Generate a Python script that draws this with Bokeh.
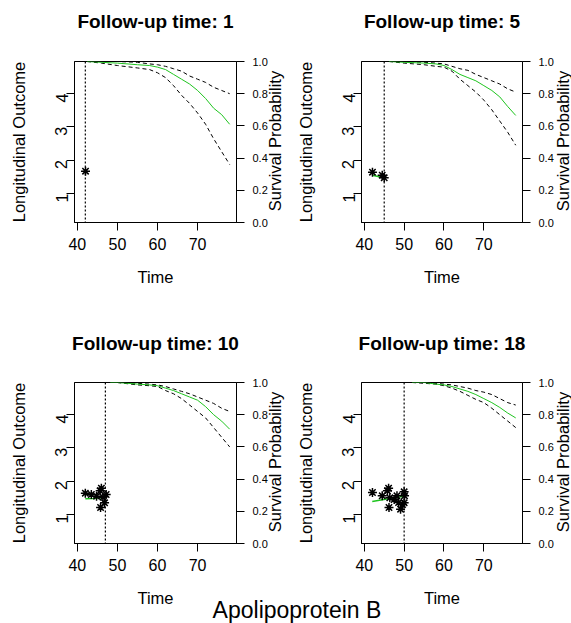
import math
from bokeh.plotting import figure
from bokeh.models import Range1d, LinearAxis, FixedTicker, Span, Title, GridBox, Div, PrintfTickFormatter
from bokeh.embed import file_html
from bokeh.resources import INLINE

FONT = "Liberation Sans"

# ---------------- data ----------------
panel_titles = ["Follow-up time: 1", "Follow-up time: 5", "Follow-up time: 10", "Follow-up time: 18"]
last_visit = [42.0, 45.0, 47.0, 50.0]

x_ticks = [40, 50, 60, 70]
left_ticks = [1, 2, 3, 4]
right_ticks = [0.0, 0.2, 0.4, 0.6, 0.8, 1.0]

# observed longitudinal measurements (Apolipoprotein B)
obs_t_1 = [42.05]
obs_y_1 = [1.67]
obs_t_2 = [42.05, 44.5, 45.0]
obs_y_2 = [1.64, 1.55, 1.47]
obs_t_3 = [42.0, 43.5, 44.8, 45.7, 46.0, 46.4, 45.8, 46.8, 47.2]
obs_y_3 = [1.64, 1.60, 1.55, 1.71, 1.79, 1.52, 1.21, 1.35, 1.60]
obs_t_4 = [42.05, 44.5, 45.8, 46.1, 46.4, 46.2, 47.5, 48.2, 48.6, 49.1, 49.6, 50.0, 50.0, 50.1]
obs_y_4 = [1.66, 1.56, 1.71, 1.79, 1.50, 1.21, 1.45, 1.56, 1.36, 1.16, 1.30, 1.68, 1.35, 1.56]

# fitted longitudinal trajectory
fit_t_1 = []
fit_y_1 = []
fit_t_2 = [42.0, 45.0]
fit_y_2 = [1.55, 1.47]
fit_t_3 = [42.0, 44.0, 46.0, 47.0]
fit_y_3 = [1.47, 1.48, 1.50, 1.52]
fit_t_4 = [42.0, 46.0, 50.0]
fit_y_4 = [1.39, 1.47, 1.55]

# predicted survival probability with 95% band
surv_t_1 = [42.4, 46, 50, 55, 58, 60, 62, 64, 66, 68, 70, 72, 74, 76, 78]
surv_m_1 = [1.0, 0.995, 0.99, 0.98, 0.975, 0.965, 0.95, 0.92, 0.89, 0.86, 0.82, 0.77, 0.71, 0.67, 0.61]
surv_u_1 = [1.0, 1.0, 1.0, 0.995, 0.985, 0.98, 0.97, 0.955, 0.94, 0.91, 0.89, 0.87, 0.84, 0.82, 0.80]
surv_l_1 = [1.0, 0.99, 0.975, 0.96, 0.95, 0.93, 0.90, 0.85, 0.79, 0.74, 0.68, 0.61, 0.52, 0.44, 0.36]

surv_t_2 = [46.2, 50, 55, 58, 60, 62, 64, 66, 68, 70, 72, 74, 76, 78]
surv_m_2 = [1.0, 0.995, 0.99, 0.985, 0.975, 0.95, 0.92, 0.90, 0.88, 0.85, 0.82, 0.78, 0.72, 0.665]
surv_u_2 = [1.0, 1.0, 0.995, 0.99, 0.985, 0.97, 0.955, 0.945, 0.92, 0.90, 0.88, 0.86, 0.83, 0.81]
surv_l_2 = [1.0, 0.99, 0.98, 0.97, 0.965, 0.94, 0.89, 0.85, 0.81, 0.76, 0.70, 0.63, 0.56, 0.48]

surv_t_3 = [48.2, 50, 55, 58, 60, 62, 64, 66, 68, 70, 72, 74, 76, 78]
surv_m_3 = [1.0, 1.0, 0.99, 0.985, 0.98, 0.965, 0.95, 0.93, 0.91, 0.89, 0.85, 0.80, 0.76, 0.71]
surv_u_3 = [1.0, 1.0, 0.995, 0.99, 0.985, 0.975, 0.96, 0.945, 0.93, 0.91, 0.89, 0.87, 0.84, 0.82]
surv_l_3 = [1.0, 1.0, 0.985, 0.98, 0.975, 0.95, 0.93, 0.90, 0.86, 0.82, 0.78, 0.72, 0.66, 0.60]

surv_t_4 = [52, 55, 58, 60, 62, 64, 66, 68, 70, 72, 74, 76, 78]
surv_m_4 = [1.0, 1.0, 0.99, 0.985, 0.975, 0.96, 0.945, 0.925, 0.90, 0.875, 0.845, 0.81, 0.78]
surv_u_4 = [1.0, 1.0, 0.995, 0.99, 0.985, 0.975, 0.965, 0.95, 0.94, 0.925, 0.90, 0.875, 0.86]
surv_l_4 = [1.0, 0.995, 0.99, 0.98, 0.965, 0.945, 0.92, 0.895, 0.875, 0.84, 0.80, 0.76, 0.72]

overall_title = "Apolipoprotein B"
right_axis_title = "Survival Probability"

panels = [
    (obs_t_1, obs_y_1, fit_t_1, fit_y_1, surv_t_1, surv_m_1, surv_u_1, surv_l_1),
    (obs_t_2, obs_y_2, fit_t_2, fit_y_2, surv_t_2, surv_m_2, surv_u_2, surv_l_2),
    (obs_t_3, obs_y_3, fit_t_3, fit_y_3, surv_t_3, surv_m_3, surv_u_3, surv_l_3),
    (obs_t_4, obs_y_4, fit_t_4, fit_y_4, surv_t_4, surv_m_4, surv_u_4, surv_l_4),
]

GREEN = "#1fc41f"

# layout: (width, height, left, right, top, bottom, title spacer standoff)
geoms = [
    (285, 310, 74, 49, 61, 88, 7),
    (286, 310, 76, 49, 61, 88, 7),
    (285, 313, 74, 49, 72, 80, 6),
    (286, 313, 76, 49, 72, 80, 6),
]
# page positions (centre) of the rotated right-axis titles
sp_pos = [(275, 141), (563, 141), (275, 462), (563, 462)]

X_LO, X_HI = 39.3, 79.7
Y_LO, Y_HI = 0.13, 4.96


def style_axis(ax, size):
    ax.major_label_text_font = FONT
    ax.major_label_text_font_size = size
    ax.major_label_text_color = "black"
    ax.axis_label_text_font = FONT
    ax.axis_label_text_font_size = "16.5px"
    ax.axis_label_text_font_style = "normal"
    ax.axis_label_text_color = "black"
    ax.major_tick_out = 8
    ax.major_tick_in = 0
    ax.minor_tick_line_color = None
    ax.major_tick_line_color = "black"
    ax.axis_line_color = "black"


figs = []
for i, (ot, oy, ft, fy, st, sm, su, sl) in enumerate(panels):
    w, h, bl, br, bt, bb, sp = geoms[i]
    p = figure(width=w, height=h, x_range=Range1d(X_LO, X_HI), y_range=Range1d(Y_LO, Y_HI),
               output_backend="svg", toolbar_location=None,
               min_border_left=bl, min_border_right=br, min_border_top=bt, min_border_bottom=bb)
    p.extra_y_ranges = {"surv": Range1d(0.0, 1.0)}
    p.xgrid.visible = False
    p.ygrid.visible = False
    p.outline_line_color = "black"
    p.outline_line_width = 1
    p.background_fill_color = "white"
    p.border_fill_color = "white"

    # spacer between frame and title, then the title itself
    p.add_layout(Title(text=" ", text_font=FONT, text_font_size="19px", standoff=sp), "above")
    p.add_layout(Title(text=panel_titles[i], align="center", text_font=FONT, text_font_size="19px",
                       text_font_style="bold", text_color="black", standoff=0), "above")

    xa = p.xaxis[0]
    style_axis(xa, "16px")
    xa.ticker = FixedTicker(ticks=x_ticks)
    xa.axis_label = "Time"
    xa.major_label_standoff = 7
    xa.axis_label_standoff = 15

    ya = p.yaxis[0]
    style_axis(ya, "16px")
    ya.ticker = FixedTicker(ticks=left_ticks)
    ya.major_label_orientation = math.pi / 2
    ya.axis_label = "Longitudinal Outcome"
    ya.major_label_standoff = 5
    ya.axis_label_standoff = 19

    ra = LinearAxis(y_range_name="surv")
    style_axis(ra, "11px")
    ra.ticker = FixedTicker(ticks=right_ticks)
    ra.formatter = PrintfTickFormatter(format="%.1f")
    ra.major_label_standoff = 8
    p.add_layout(ra, "right")

    # survival curves
    p.line(st, su, y_range_name="surv", line_color="black", line_dash="4 3", line_width=1)
    p.line(st, sl, y_range_name="surv", line_color="black", line_dash="4 3", line_width=1)
    p.line(st, sm, y_range_name="surv", line_color=GREEN, line_width=1)

    # longitudinal
    if ft:
        p.line(ft, fy, line_color=GREEN, line_width=1.5)
    p.scatter(ot, oy, marker="asterisk", size=9, line_color="black", line_width=1.5)

    p.add_layout(Span(location=last_visit[i], dimension="height", line_color="black",
                      line_dash="2 2", line_width=1.2))
    figs.append(p)

# overlay with the rotated right-axis titles and the overall title
sp_style = ("position:absolute;transform:translate(-50%,-50%) rotate(-90deg);white-space:nowrap;"
            "font-family:'Liberation Sans';font-size:16.5px;line-height:16.5px;color:black;")
ttl_style = ("position:absolute;transform:translateX(-50%);white-space:nowrap;"
             "font-family:'Liberation Sans';font-size:23px;line-height:23px;color:black;")
parts = ['<div style="position:relative;width:571px;height:623px;pointer-events:none;">']
for (cx, cy) in sp_pos:
    parts.append('<div style="' + sp_style + 'left:' + str(cx) + 'px;top:' + str(cy) + 'px;">'
                 + right_axis_title + '</div>')
parts.append('<div style="' + ttl_style + 'left:297px;top:599px;">' + overall_title + '</div>')
parts.append('</div>')
overlay = Div(text="".join(parts), width=571, height=623, margin=0)

grid = GridBox(children=[(figs[0], 0, 0), (figs[1], 0, 1), (figs[2], 1, 0), (figs[3], 1, 1),
                         (overlay, 0, 0, 2, 2)], spacing=0)

open("out.html", "w").write(file_html(grid, INLINE))
